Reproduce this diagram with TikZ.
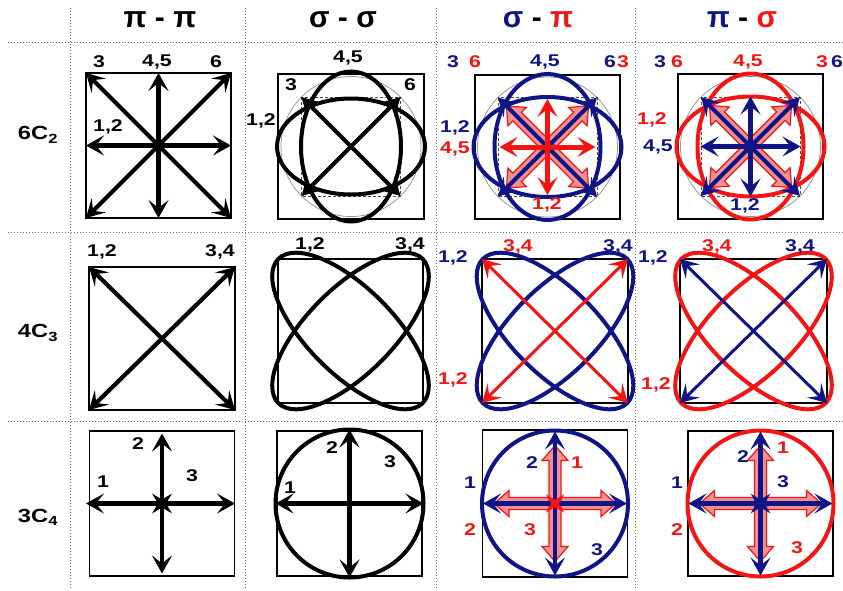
\documentclass[tikz,border=0pt]{standalone}
\usepackage{fontspec}
\setmainfont{Liberation Sans}
\newfontfamily\etiq[FakeStretch=1.25]{Liberation Sans}
\usetikzlibrary{arrows.meta, shapes.geometric}
\definecolor{bleuNuit}{RGB}{15, 20, 135}
\definecolor{rougeVif}{RGB}{245, 20, 20}
\definecolor{rosePale}{RGB}{242, 145, 145}
\definecolor{griseGrille}{RGB}{110, 110, 110}
\definecolor{griseCercle}{RGB}{150, 150, 150}
% fleche double en bloc : centre, angle, demi-longueur
\newcommand{\flecheBloc}[3]{%
  \draw[bloc, shift={(#1)}, rotate=#2]
    (-#3,0) -- (-#3+15,13) -- (-#3+15,6) -- (#3-15,6) -- (#3-15,13)
    -- (#3,0) -- (#3-15,-13) -- (#3-15,-6) -- (-#3+15,-6)
    -- (-#3+15,-13) -- cycle;}

\begin{document}
\begin{tikzpicture}[x=1pt, y=-1pt,
  grille/.style={dotted, draw=griseGrille, line width=1pt},
  cadre/.style={draw=black, line width=1.8pt},
  cercle/.style={draw=griseCercle, line width=0.8pt},
  carre/.style={draw=black!70, densely dashed, line width=0.8pt},
  orb/.style={line width=4pt},
  fl/.style={{Stealth[length=18pt, width=20pt, inset=8pt]}-{Stealth[length=18pt, width=20pt, inset=8pt]},
    line width=4.2pt},
  bloc/.style={draw=rougeVif, fill=rosePale, line width=1.2pt},
  etoile/.style={star, star points=4, star point ratio=3.5, inner sep=0pt,
    minimum size=28pt, shape border rotate=45},
  tete/.style={font=\fontsize{30}{30}\selectfont\bfseries},
  rang/.style={font=\etiq\fontsize{19}{19}\selectfont\bfseries},
  lbl/.style={font=\etiq\fontsize{17}{17}\selectfont\bfseries, inner sep=0pt},
]
\useasboundingbox (0,0) rectangle (843,590);

% grille
\draw[grille] (8,42) -- (843,42);
\draw[grille] (8,232) -- (843,232);
\draw[grille] (8,421) -- (843,421);
\draw[grille] (70,8) -- (70,590);
\draw[grille] (245,8) -- (245,590);
\draw[grille] (436,8) -- (436,590);
\draw[grille] (635,8) -- (635,590);

% en-tetes
\node[tete] (hpp) at (160,20) {π - π};
\node[tete] (hss) at (343,20) {σ - σ};
\node[tete] (hsp) at (538,20) {\textcolor{bleuNuit}{σ} - \textcolor{rougeVif}{π}};
\node[tete] (hps) at (742,20) {\textcolor{bleuNuit}{π} - \textcolor{rougeVif}{σ}};
\node[rang] (r6) at (38,135) {6C\textsubscript{2}};
\node[rang] (r4) at (38,333) {4C\textsubscript{3}};
\node[rang] (r3) at (38,517) {3C\textsubscript{4}};

% centres des cases
\coordinate (c11) at (158.5,145.5);
\coordinate (c12) at (351,146.5);
\coordinate (c13) at (547.5,147);
\coordinate (c14) at (750.5,146.5);
\coordinate (c21) at (162,338.5);
\coordinate (c22) at (350.5,331);
\coordinate (c23) at (555,331);
\coordinate (c24) at (753.5,331);
\coordinate (c31) at (162,503.5);
\coordinate (c32) at (349.5,503.5);
\coordinate (c33) at (555,503.5);
\coordinate (c34) at (760.5,503.5);

% ---- 6C2
\draw[cadre] (c11) +(-72.5,-72.5) rectangle +(72.5,72.5);
\draw[fl] (c11) +(-72.5,0) -- +(72.5,0);
\draw[fl] (c11) +(0,-72.5) -- +(0,72.5);
\draw[fl] (c11) +(-72.5,-72.5) -- +(72.5,72.5);
\draw[fl] (c11) +(72.5,-72.5) -- +(-72.5,72.5);
\node[lbl] (a3) at (99,62) {3};
\node[lbl] (a45) at (157,62) {4,5};
\node[lbl] (a6) at (216,62) {6};
\node[lbl] (a12) at (108,127) {1,2};

\draw[cadre] (c12) +(-73,-72.5) rectangle +(73,72.5);
\draw[cercle] (c12) circle [radius=70];
\draw[carre] (c12) +(-49.5,-49.5) rectangle +(49.5,49.5);
\draw[orb] (c12) ellipse [x radius=74, y radius=48];
\draw[orb] (c12) ellipse [x radius=50, y radius=75];
\draw[fl] (c12) +(-49.5,-49.5) -- +(49.5,49.5);
\draw[fl] (c12) +(49.5,-49.5) -- +(-49.5,49.5);
\node[lbl] (b45) at (348,58) {4,5};
\node[lbl] (b3) at (291,85) {3};
\node[lbl] (b6) at (410,85) {6};
\node[lbl] (b12) at (261,121) {1,2};

\draw[cadre] (c13) +(-72.5,-72) rectangle +(72.5,72);
\draw[cercle] (c13) circle [radius=70];
\draw[carre] (c13) +(-49.5,-49.5) rectangle +(49.5,49.5);
\flecheBloc{c13}{45}{58}
\flecheBloc{c13}{-45}{58}
\draw[orb, bleuNuit] (c13) ellipse [x radius=74, y radius=50];
\draw[orb, bleuNuit] (c13) ellipse [x radius=53, y radius=73];
\draw[fl, bleuNuit] (c13) +(-49.5,-49.5) -- +(49.5,49.5);
\draw[fl, bleuNuit] (c13) +(49.5,-49.5) -- +(-49.5,49.5);
\draw[fl, rougeVif, line width=5pt] (c13) +(-48,0) -- +(48,0);
\draw[fl, rougeVif, line width=5pt] (c13) +(0,-48) -- +(0,48);
\node[lbl, bleuNuit] (c3n) at (453,62) {3};
\node[lbl, rougeVif] (c6r) at (475,62) {6};
\node[lbl, bleuNuit] (c45n) at (545,62) {4,5};
\node[lbl, bleuNuit] (c6n) at (610,62) {6};
\node[lbl, rougeVif] (c3r) at (623,62) {3};
\node[lbl, bleuNuit] (c12n) at (455,128) {1,2};
\node[lbl, rougeVif] (c45r) at (455,149) {4,5};
\node[lbl, rougeVif] (c12r) at (547,205) {1,2};

\draw[cadre] (c14) +(-72.5,-72.5) rectangle +(72.5,72.5);
\draw[cercle] (c14) circle [radius=70];
\draw[carre] (c14) +(-49.5,-49.5) rectangle +(49.5,49.5);
\flecheBloc{c14}{45}{58}
\flecheBloc{c14}{-45}{58}
\draw[orb, rougeVif] (c14) ellipse [x radius=74, y radius=50];
\draw[orb, rougeVif] (c14) ellipse [x radius=53, y radius=73];
\draw[fl, bleuNuit] (c14) +(-49.5,-49.5) -- +(49.5,49.5);
\draw[fl, bleuNuit] (c14) +(49.5,-49.5) -- +(-49.5,49.5);
\draw[fl, bleuNuit, line width=5pt] (c14) +(-50,0) -- +(50,0);
\draw[fl, bleuNuit, line width=5pt] (c14) +(0,-50) -- +(0,50);
\node[lbl, bleuNuit] (d3n) at (660,62) {3};
\node[lbl, rougeVif] (d6r) at (677,62) {6};
\node[lbl, rougeVif] (d45r) at (748,62) {4,5};
\node[lbl, rougeVif] (d3r) at (822,62) {3};
\node[lbl, bleuNuit] (d6n) at (837,62) {6};
\node[lbl, rougeVif] (d12r) at (652,120) {1,2};
\node[lbl, bleuNuit] (d45n) at (658,147) {4,5};
\node[lbl, bleuNuit] (d12n) at (745,206) {1,2};

% ---- 4C3
\draw[cadre] (c21) +(-73,-71.5) rectangle +(73,71.5);
\draw[fl] (c21) +(-73,-71.5) -- +(73,71.5);
\draw[fl] (c21) +(73,-71.5) -- +(-73,71.5);
\node[lbl] (e12) at (102,252) {1,2};
\node[lbl] (e34) at (220,252) {3,4};

\draw[cadre, line width=1.4pt] (c22) +(-72.5,-72) rectangle +(72.5,72);
\draw[orb, rotate around={45:(c22)}] (c22) ellipse [x radius=102, y radius=43];
\draw[orb, rotate around={-45:(c22)}] (c22) ellipse [x radius=102, y radius=43];
\node[lbl] (f12) at (310,245) {1,2};
\node[lbl] (f34) at (410,245) {3,4};

\draw[cadre, line width=1.4pt] (c23) +(-73,-72) rectangle +(73,72);
\draw[orb, bleuNuit, rotate around={45:(c23)}] (c23) ellipse [x radius=102, y radius=43];
\draw[orb, bleuNuit, rotate around={-45:(c23)}] (c23) ellipse [x radius=102, y radius=43];
\draw[fl, rougeVif, line width=3pt] (c23) +(-73,-72) -- +(73,72);
\draw[fl, rougeVif, line width=3pt] (c23) +(73,-72) -- +(-73,72);
\node[lbl, bleuNuit] (g12n) at (453,258) {1,2};
\node[lbl, rougeVif] (g34r) at (518,247) {3,4};
\node[lbl, bleuNuit] (g34n) at (618,247) {3,4};
\node[lbl, rougeVif] (g12r) at (453,380) {1,2};

\draw[cadre, line width=1.4pt] (c24) +(-73.5,-72) rectangle +(73.5,72);
\draw[orb, rougeVif, rotate around={45:(c24)}] (c24) ellipse [x radius=102, y radius=43];
\draw[orb, rougeVif, rotate around={-45:(c24)}] (c24) ellipse [x radius=102, y radius=43];
\draw[fl, bleuNuit, line width=3pt] (c24) +(-73.5,-72) -- +(73.5,72);
\draw[fl, bleuNuit, line width=3pt] (c24) +(73.5,-72) -- +(-73.5,72);
\node[lbl, bleuNuit] (h12n) at (653,258) {1,2};
\node[lbl, rougeVif] (h34r) at (717,247) {3,4};
\node[lbl, bleuNuit] (h34n) at (800,247) {3,4};
\node[lbl, rougeVif] (h12r) at (656,385) {1,2};

% ---- 3C4
\draw[cadre] (c31) +(-72.5,-72.5) rectangle +(72.5,72.5);
\draw[fl] (c31) +(-76,0) -- +(73,0);
\draw[fl] (c31) +(0,-70) -- +(0,70);
\node[etoile, fill=black] (s31) at (c31) {};
\node[lbl] (i2) at (138,444) {2};
\node[lbl] (i1) at (103,482) {1};
\node[lbl] (i3) at (192,476) {3};

\draw[cadre] (c32) +(-72.5,-72.5) rectangle +(72.5,72.5);
\draw[orb] (c32) circle [radius=74];
\draw[fl] (c32) +(-74,0) -- +(74,0);
\draw[fl] (c32) +(0,-74) -- +(0,74);
\node[lbl] (j2) at (332,448) {2};
\node[lbl] (j3) at (390,462) {3};
\node[lbl] (j1) at (290,488) {1};

\draw[cadre] (c33) +(-72.5,-73.5) rectangle +(72.5,73.5);
\flecheBloc{c33}{0}{61}
\flecheBloc{c33}{90}{58}
\draw[orb, bleuNuit] (c33) circle [radius=73];
\draw[fl, bleuNuit] (c33) +(-72,0) -- +(72,0);
\draw[fl, bleuNuit] (c33) +(0,-72) -- +(0,72);
\node[etoile, fill=rougeVif, minimum size=26pt] (s33) at (c33) {};
\node[lbl, bleuNuit] (k1n) at (470,483) {1};
\node[lbl, rougeVif] (k2r) at (470,530) {2};
\node[lbl, bleuNuit] (k2n) at (532,463) {2};
\node[lbl, rougeVif] (k1r) at (577,463) {1};
\node[lbl, rougeVif] (k3r) at (530,530) {3};
\node[lbl, bleuNuit] (k3n) at (597,550) {3};

\draw[cadre] (c34) +(-72.5,-72.5) rectangle +(72.5,72.5);
\flecheBloc{c34}{0}{61}
\flecheBloc{c34}{90}{58}
\draw[orb, rougeVif] (c34) circle [radius=73];
\draw[fl, bleuNuit] (c34) +(-72,0) -- +(72,0);
\draw[fl, bleuNuit] (c34) +(0,-72) -- +(0,72);
\node[etoile, fill=bleuNuit] (s34) at (c34) {};
\node[lbl, bleuNuit] (m1n) at (677,483) {1};
\node[lbl, rougeVif] (m2r) at (677,530) {2};
\node[lbl, bleuNuit] (m2n) at (743,457) {2};
\node[lbl, rougeVif] (m1r) at (783,448) {1};
\node[lbl, bleuNuit] (m3n) at (783,482) {3};
\node[lbl, rougeVif] (m3r) at (797,548) {3};
\end{tikzpicture}
\end{document}
